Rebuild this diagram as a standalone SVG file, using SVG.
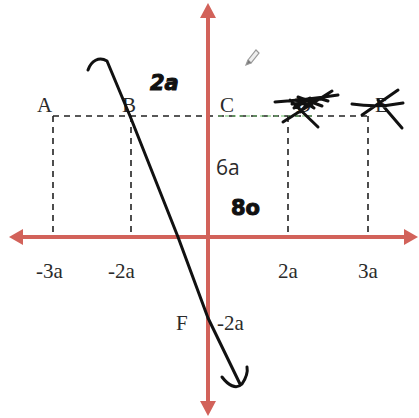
<svg xmlns="http://www.w3.org/2000/svg" width="419" height="418" viewBox="0 0 419 418">
<style>
.axis{stroke:#d2625a;stroke-width:4;fill:none}
.ah{fill:#d2625a}
.dash{stroke:#222;stroke-width:1.6;stroke-dasharray:6,5;fill:none}
.lbl{font-family:"Liberation Serif",serif;font-size:21px;fill:#2a2a2a}
.sans{font-family:"Open Sans","Liberation Sans",sans-serif;font-size:21px;fill:#2a2a2a}
.ink{stroke:#111;stroke-width:3;fill:none;stroke-linecap:round;stroke-linejoin:round}
.hand{font-family:"DejaVu Sans",sans-serif;font-weight:bold;font-size:21px;fill:#111;stroke:#111;stroke-width:1}
</style>
<rect width="419" height="418" fill="#fff"/>
<g id="guides">
<path class="dash" d="M53,116 H370"/>
<path class="dash" d="M53,116 V237 M131,116 V237 M288,116 V237 M368,116 V237"/>
<path d="M218,116 H312" stroke="#6fbf6a" stroke-width="1.2" stroke-dasharray="4,3" fill="none"/>
</g>
<g id="axes">
<path class="axis" d="M22,237 H405"/>
<polygon class="ah" points="9,237 23,229 23,245"/>
<polygon class="ah" points="418,237 404,229 404,245"/>
<path class="axis" d="M208,16 V402"/>
<polygon class="ah" points="208,3 200,18 216,18"/>
<polygon class="ah" points="208,416 200,401 216,401"/>
</g>
<g id="labels">
<text class="lbl" x="37" y="112">A</text>
<text class="lbl" x="122" y="112">B</text>
<text class="lbl" x="220" y="112">C</text>
<text class="lbl" x="296" y="112">D</text>
<text class="lbl" x="375" y="112" fill="#777">E</text>
<text class="sans" x="216" y="175">6a</text>
<text class="lbl" x="36" y="278">-3a</text>
<text class="lbl" x="108" y="278">-2a</text>
<text class="lbl" x="278" y="278">2a</text>
<text class="lbl" x="358" y="278">3a</text>
<text class="lbl" x="176" y="330">F</text>
<text class="lbl" x="217" y="330">-2a</text>
</g>
<g id="handwriting">
<path class="ink" d="M88,70 C91,61 99,56 107,61 L130,116 L178,237 L208,318 L240,384"/>
<path class="ink" d="M222,377 C228,385 236,390 242,384 C246,378 248,372 247,367"/>
<text class="hand" x="150" y="90" font-style="italic">2a</text>
<text class="hand" x="231" y="215">8o</text>
<path class="ink" d="M275,102 Q305,100 338,95 M283,122 L332,91 M290,100 L318,127 M294,108 Q310,94 328,101 M298,97 L322,106 M292,104 Q306,102 314,108 M300,112 Q310,100 318,98"/>
<path class="ink" stroke-width="4" d="M296,100 L312,106 M298,106 L310,98"/>
<path class="ink" d="M352,104 Q378,108 403,103 M362,115 L398,90 M378,100 L402,128"/>
<g id="pencil" stroke="#999" stroke-width="1.2" fill="#eee">
<path d="M248,60 L256,50 L259,53 L251,63 Z"/>
<path d="M248,60 L246,65 L251,63" fill="#777"/>
</g>
</g>
</svg>
